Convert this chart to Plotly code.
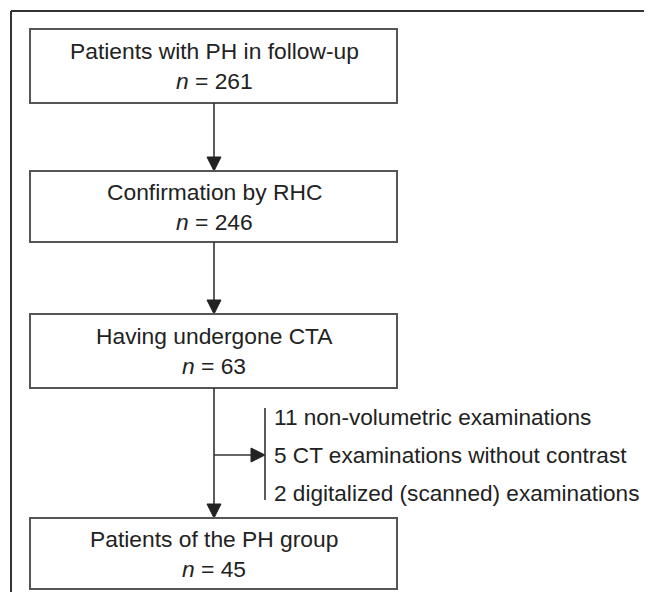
import plotly.graph_objects as go

# ---- data ----
steps = ["Patients with PH in follow-up", "Confirmation by RHC",
         "Having undergone CTA", "Patients of the PH group"]
counts = [261, 246, 63, 45]
excl_counts = [11, 5, 2]
excl_reasons = ["non-volumetric examinations", "CT examinations without contrast",
                "digitalized (scanned) examinations"]

# ---- layout constants (page pixels in a 652x600 window) ----
OFF = 8  # default page body margin; axis ranges compensate so data coords == page pixels
W, H = 652 - OFF, 600 - 2 * OFF
box_x0, box_x1 = 30, 397
box_top = [29, 171, 314, 518]
box_bot = [103, 242, 388, 589]
cx = 214
line_col = "#333333"
box_col = "#555555"
font_family = "Liberation Sans, Arial, sans-serif"
fs_box = 22.8
fs_excl = 22.6
excl_y = [417, 455, 493]
bracket_x = 265
text_x = 272
ah = 14  # arrowhead length
aw = 7   # arrowhead half width

fig = go.Figure()
shapes = []
annotations = []

# outer frame (top and left)
shapes.append(dict(type="line", x0=11, y0=11, x1=700, y1=11,
                   line=dict(color=line_col, width=2)))
shapes.append(dict(type="line", x0=11, y0=11, x1=11, y1=700,
                   line=dict(color=line_col, width=2)))

for i, (lab, n) in enumerate(zip(steps, counts)):
    t, b = box_top[i], box_bot[i]
    shapes.append(dict(type="rect", x0=box_x0, x1=box_x1, y0=t, y1=b,
                       line=dict(color=box_col, width=2), fillcolor="white"))
    mid = (t + b) / 2
    annotations.append(dict(x=cx, y=mid - 15, text=lab, showarrow=False,
                            xanchor="center", yanchor="middle",
                            font=dict(size=fs_box, color="#222", family=font_family)))
    annotations.append(dict(x=cx, y=mid + 15, text=f"<i>n</i> = {n}", showarrow=False,
                            xanchor="center", yanchor="middle",
                            font=dict(size=fs_box, color="#222", family=font_family)))
    if i < len(steps) - 1:
        y0 = b
        y1 = box_top[i + 1]
        shapes.append(dict(type="line", x0=cx, x1=cx, y0=y0, y1=y1 - ah,
                           line=dict(color=line_col, width=1.6)))
        shapes.append(dict(type="path",
                           path=f"M {cx - aw},{y1 - ah} L {cx + aw},{y1 - ah} L {cx},{y1} Z",
                           fillcolor="#222", line=dict(color="#222", width=1)))

# exclusion arrow and bracket
ymid = excl_y[1]
shapes.append(dict(type="line", x0=cx, x1=bracket_x - ah, y0=ymid, y1=ymid,
                   line=dict(color=line_col, width=1.6)))
shapes.append(dict(type="path",
                   path=f"M {bracket_x - ah},{ymid - aw} L {bracket_x - ah},{ymid + aw} L {bracket_x},{ymid} Z",
                   fillcolor="#222", line=dict(color="#222", width=1)))
shapes.append(dict(type="line", x0=bracket_x, x1=bracket_x, y0=408, y1=500,
                   line=dict(color=line_col, width=1.6)))

for y, c, r in zip(excl_y, excl_counts, excl_reasons):
    annotations.append(dict(x=text_x, y=y, text=f"{c} {r}", showarrow=False,
                            xanchor="left", yanchor="middle",
                            font=dict(size=fs_excl, color="#222", family=font_family)))

fig.update_layout(
    width=W, height=H,
    margin=dict(l=0, r=0, t=0, b=0),
    paper_bgcolor="white", plot_bgcolor="white",
    xaxis=dict(range=[OFF, W + OFF], visible=False, fixedrange=True),
    yaxis=dict(range=[H + OFF, OFF], visible=False, fixedrange=True),
    shapes=shapes, annotations=annotations, showlegend=False,
)
fig.write_html("out.html")
